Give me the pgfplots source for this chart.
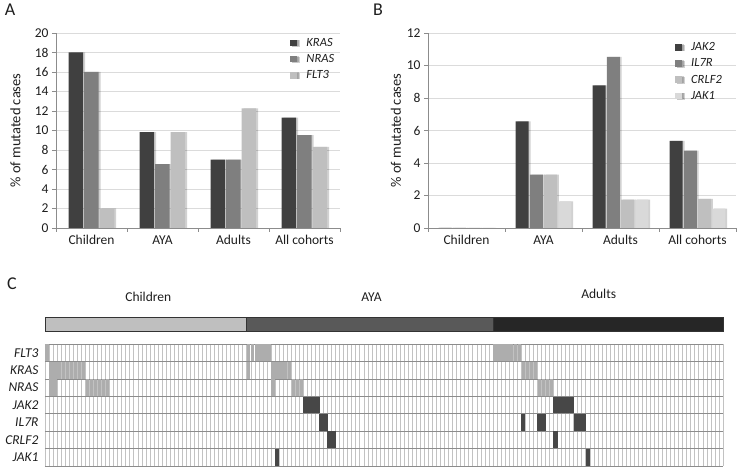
\documentclass[border=0pt]{standalone}
\usepackage{fontspec}
\setmainfont{Carlito}
\usepackage{pgfplots}
\usetikzlibrary{shadows}
\pgfplotsset{compat=1.18}
\definecolor{cK}{HTML}{404040}
\definecolor{cN}{HTML}{7F7F7F}
\definecolor{cF}{HTML}{BFBFBF}
\definecolor{cJ1}{HTML}{D9D9D9}
\definecolor{cLight}{HTML}{ADADAD}
\definecolor{cDark}{HTML}{474747}
\definecolor{axgray}{HTML}{8C8C8C}
\definecolor{txt}{HTML}{1E1E1E}
\begin{document}
\begin{tikzpicture}[x=1pt,y=1pt]
\useasboundingbox (0,0) rectangle (737,468);
\pgfplotsset{
  barax/.style={
    scale only axis, height=195pt, ymin=0, xmin=0, xmax=4,
    axis x line*=bottom, axis y line*=left,
    axis line style={draw=axgray,-},
    tick style={draw=axgray}, tick align=outside, major tick length=4pt,
    xtick={0,1,2,3,4}, xticklabels={,,,,},
    extra x ticks={0.5,1.5,2.5,3.5},
    extra x tick labels={Children,AYA,Adults,All cohorts},
    extra x tick style={major tick length=0pt, xticklabel style={yshift=-4pt}},
    ymajorgrids, grid style={draw=black!14, line width=0.6pt},
    /pgf/number format/assume math mode=true,
    tick label style={font=\fontsize{13.5}{16}\selectfont, text=txt},
    label style={font=\fontsize{14.5}{17}\selectfont, text=txt},
    ylabel={\% of mutated cases},
    legend cell align=left,
    legend style={draw=none, fill=none, inner sep=0pt, row sep=2.6pt,
      font=\fontsize{12.5}{14}\selectfont\itshape, text=txt},
  },
  sq/.style={draw=none, fill=#1,
    drop shadow={shadow xshift=1.8pt, shadow yshift=0pt, fill=black, opacity=0.18},
    legend image code/.code={\fill[black!22] (1.5pt,-4pt) rectangle (8pt,2.5pt);
      \fill[fill=#1] (0pt,-3.2pt) rectangle (6.5pt,3.3pt); \path (14pt,0pt);}},
}
% Panel A
\begin{axis}[barax, at={(56pt,240pt)}, anchor=south west, width=284pt,
  ymax=20, ytick={0,2,...,20},
  ybar=1pt, bar width=14.5pt,
  ylabel style={at={(axis description cs:-0.143,0.5)}, anchor=center},
  legend style={at={(rel axis cs:0.825,0.985)}, anchor=north west}]
\addplot[sq=cK] coordinates {(0.5,18.00) (1.5,9.84) (2.5,7.02) (3.5,11.31)};
\addplot[sq=cN] coordinates {(0.5,16.00) (1.5,6.56) (2.5,7.02) (3.5,9.52)};
\addplot[sq=cF] coordinates {(0.5,2.00) (1.5,9.84) (2.5,12.28) (3.5,8.33)};
\legend{KRAS,NRAS,FLT3}
\end{axis}
% Panel B
\begin{axis}[barax, at={(428pt,240pt)}, anchor=south west, width=308pt,
  ymax=12, ytick={0,2,...,12},
  ybar=1.2pt, bar width=13pt,
  ylabel style={at={(axis description cs:-0.104,0.5)}, anchor=center},
  legend style={at={(rel axis cs:0.802,0.962)}, anchor=north west}]
\addplot[sq=cK] coordinates {(0.5,0) (1.5,6.56) (2.5,8.77) (3.5,5.36)};
\addplot[sq=cN] coordinates {(0.5,0) (1.5,3.28) (2.5,10.53) (3.5,4.76)};
\addplot[sq=cF] coordinates {(0.5,0) (1.5,3.28) (2.5,1.75) (3.5,1.79)};
\addplot[sq=cJ1] coordinates {(0.5,0) (1.5,1.64) (2.5,1.75) (3.5,1.19)};
\legend{JAK2,IL7R,CRLF2,JAK1}
\end{axis}
% Panel C: cohort bar
\begin{axis}[at={(45pt,137pt)}, anchor=south west, scale only axis,
  width=678pt, height=14pt, xmin=0, xmax=168, ymin=0, ymax=1,
  hide axis, clip=false]
\addplot[fill=cF, draw=black!80, line width=0.8pt] coordinates {(0,1) (50,1)} \closedcycle;
\addplot[fill=black!65, draw=black!80, line width=0.8pt] coordinates {(50,1) (111,1)} \closedcycle;
\addplot[fill=black!85, draw=black!80, line width=0.8pt] coordinates {(111,1) (168,1)} \closedcycle;
\node[font=\fontsize{13.5}{16}\selectfont, text=txt] at (axis cs:25.6,1) [yshift=20pt] {Children};
\node[font=\fontsize{13.5}{16}\selectfont, text=txt] at (axis cs:80.9,1) [yshift=20pt] {AYA};
\node[font=\fontsize{13.5}{16}\selectfont, text=txt] at (axis cs:137.2,1) [yshift=23pt] {Adults};
\end{axis}
% Panel C: mutation grid
\begin{axis}[at={(45pt,2pt)}, anchor=south west, scale only axis,
  width=678pt, height=122pt, xmin=0, xmax=168, ymin=0, ymax=7,
  y dir=reverse, axis line style={draw=none}, tick style={draw=none},
  xtick={0,1,...,168}, xticklabels={}, xmajorgrids,
  x grid style={draw=black!24, line width=0.6pt},
  ytick={0.5,1.5,...,6.5},
  yticklabels={FLT3,KRAS,NRAS,JAK2,IL7R,CRLF2,JAK1},
  minor ytick={0,1,...,7}, ymajorgrids=false, yminorgrids,
  y grid style={draw=black!45, line width=0.7pt},
  yticklabel style={font=\fontsize{13.5}{16}\selectfont\itshape, text=txt, xshift=-3pt},
  clip=false]
% light cells (FLT3, KRAS, NRAS)
\addplot[only marks, mark=|, mark size=8.4pt, color=cLight, mark options={line width=3.3pt}] coordinates {
 (0.5,0.5)
 (50.5,0.5) (51.5,0.5) (52.5,0.5) (53.5,0.5) (54.5,0.5) (55.5,0.5)
 (111.5,0.5) (112.5,0.5) (113.5,0.5) (114.5,0.5) (115.5,0.5) (116.5,0.5) (117.5,0.5)
 (1.5,1.5) (2.5,1.5) (3.5,1.5) (4.5,1.5) (5.5,1.5) (6.5,1.5) (7.5,1.5) (8.5,1.5) (9.5,1.5)
 (50.5,1.5) (56.5,1.5) (57.5,1.5) (58.5,1.5) (59.5,1.5) (60.5,1.5)
 (118.5,1.5) (119.5,1.5) (120.5,1.5) (121.5,1.5)
 (1.5,2.5) (2.5,2.5)
 (10.5,2.5) (11.5,2.5) (12.5,2.5) (13.5,2.5) (14.5,2.5) (15.5,2.5)
 (56.5,2.5) (61.5,2.5) (62.5,2.5) (63.5,2.5)
 (122.5,2.5) (123.5,2.5) (124.5,2.5) (125.5,2.5)
};
% dark cells (JAK2, IL7R, CRLF2, JAK1)
\addplot[only marks, mark=|, mark size=8.4pt, color=cDark, mark options={line width=4.2pt}] coordinates {
 (64.5,3.5) (65.5,3.5) (66.5,3.5) (67.5,3.5)
 (126.5,3.5) (127.5,3.5) (128.5,3.5) (129.5,3.5) (130.5,3.5)
 (68.5,4.5) (69.5,4.5) (118.5,4.5) (122.5,4.5) (123.5,4.5)
 (131.5,4.5) (132.5,4.5) (133.5,4.5)
 (70.5,5.5) (71.5,5.5) (126.5,5.5)
 (57.5,6.5) (134.5,6.5)
};
\end{axis}
% panel letters
\node[font=\fontsize{18}{20}\selectfont, text=txt] at (10,458) {A};
\node[font=\fontsize{18}{20}\selectfont, text=txt] at (378,458) {B};
\node[font=\fontsize{18}{20}\selectfont, text=txt] at (12,184) {C};
\end{tikzpicture}
\end{document}
